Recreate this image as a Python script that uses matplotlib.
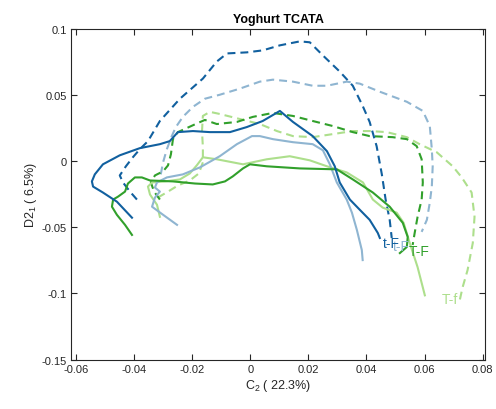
import matplotlib
matplotlib.use('Agg')
import matplotlib.pyplot as plt
import numpy as np

plt.rcParams['font.family'] = ['Liberation Sans', 'DejaVu Sans']
plt.rcParams['mathtext.fontset'] = 'custom'
plt.rcParams['mathtext.rm'] = 'Liberation Sans'
plt.rcParams['mathtext.default'] = 'regular'

# trajectories (C2, D2)
dkblue_solid_x = [-0.0407, -0.0459, -0.0507, -0.0541, -0.0545, -0.0535, -0.0507, -0.0449, -0.0380, -0.0311,
                  -0.0277, -0.0249, -0.0197, -0.0139, -0.0070, -0.0012, 0.0043, 0.0102, 0.0147, 0.0215,
                  0.0264, 0.0291, 0.0308, 0.0343, 0.0377, 0.0411, 0.0439, 0.0446]
dkblue_solid_y = [-0.0428, -0.0307, -0.0238, -0.0193, -0.0154, -0.0101, -0.0025, 0.0043, 0.0097, 0.0127,
                  0.0150, 0.0218, 0.0226, 0.0218, 0.0218, 0.0256, 0.0302, 0.0378, 0.0295, 0.0188,
                  0.0074, -0.0040, -0.0162, -0.0291, -0.0368, -0.0444, -0.0543, -0.0581]

dkblue_dash_x = [-0.0390, -0.0414, -0.0438, -0.0449, -0.0428, -0.0404, -0.0380, -0.0352, -0.0311, -0.0242,
                 -0.0163, -0.0115, -0.0080, -0.0012, 0.0043, 0.0102, 0.0171, 0.0205, 0.0250, 0.0308,
                 0.0353, 0.0387, 0.0411, 0.0435, 0.0453, 0.0466, 0.0480, 0.0487]
dkblue_dash_y = [-0.0291, -0.0231, -0.0162, -0.0109, -0.0040, 0.0028, 0.0089, 0.0150, 0.0302, 0.0470,
                 0.0622, 0.0751, 0.0812, 0.0820, 0.0835, 0.0873, 0.0903, 0.0896, 0.0797, 0.0675,
                 0.0568, 0.0416, 0.0295, 0.0112, -0.0101, -0.0291, -0.0444, -0.0581]

ltblue_solid_x = [-0.0252, -0.0300, -0.0338, -0.0328, -0.0311, -0.0328, -0.0321, -0.0287, -0.0232, -0.0173,
                  -0.0105, -0.0046, 0.0006, 0.0033, 0.0078, 0.0147, 0.0215, 0.0250, 0.0274, 0.0298,
                  0.0332, 0.0350, 0.0367, 0.0384, 0.0387]
ltblue_solid_y = [-0.0482, -0.0406, -0.0345, -0.0276, -0.0231, -0.0200, -0.0162, -0.0124, -0.0101, -0.0048,
                  0.0036, 0.0127, 0.0188, 0.0188, 0.0165, 0.0142, 0.0127, 0.0081, -0.0025, -0.0162,
                  -0.0291, -0.0390, -0.0520, -0.0672, -0.0748]

ltblue_dash_x = [-0.0308, -0.0300, -0.0287, -0.0270, -0.0256, -0.0232, -0.0197, -0.0156, -0.0105, -0.0036,
                 0.0033, 0.0078, 0.0147, 0.0215, 0.0264, 0.0332, 0.0377, 0.0446, 0.0539, 0.0594,
                 0.0618, 0.0625, 0.0628, 0.0625, 0.0618, 0.0608, 0.0590]
ltblue_dash_y = [-0.0101, -0.0010, 0.0089, 0.0188, 0.0256, 0.0333, 0.0409, 0.0470, 0.0500, 0.0546,
                 0.0599, 0.0614, 0.0599, 0.0568, 0.0568, 0.0599, 0.0584, 0.0523, 0.0447, 0.0378,
                 0.0264, 0.0089, -0.0040, -0.0193, -0.0314, -0.0444, -0.0535]

dkgreen_solid_x = [-0.0407, -0.0431, -0.0459, -0.0476, -0.0472, -0.0455, -0.0431, -0.0421, -0.0397, -0.0373,
                   -0.0345, -0.0266, -0.0190, -0.0129, -0.0087, -0.0060, -0.0025, -0.0001, 0.0057, 0.0171,
                   0.0298, 0.0353, 0.0422, 0.0480, 0.0525, 0.0542, 0.0539, 0.0515]
dkgreen_solid_y = [-0.0558, -0.0482, -0.0406, -0.0345, -0.0291, -0.0269, -0.0231, -0.0170, -0.0124, -0.0124,
                   -0.0147, -0.0154, -0.0170, -0.0177, -0.0154, -0.0116, -0.0056, -0.0025, -0.0040, -0.0056,
                   -0.0063, -0.0139, -0.0238, -0.0345, -0.0467, -0.0573, -0.0649, -0.0695]

dkgreen_dash_x = [-0.0311, -0.0331, -0.0342, -0.0328, -0.0300, -0.0283, -0.0273, -0.0266, -0.0249, -0.0218,
                  -0.0180, -0.0156, -0.0115, -0.0046, 0.0009, 0.0078, 0.0147, 0.0215, 0.0284, 0.0353,
                  0.0411, 0.0490, 0.0539, 0.0573, 0.0590, 0.0594, 0.0590, 0.0576, 0.0566, 0.0559]
dkgreen_dash_y = [-0.0291, -0.0231, -0.0162, -0.0109, -0.0078, -0.0033, 0.0051, 0.0165, 0.0218, 0.0249,
                  0.0287, 0.0310, 0.0279, 0.0295, 0.0333, 0.0363, 0.0340, 0.0302, 0.0264, 0.0218,
                  0.0188, 0.0180, 0.0165, 0.0112, 0.0013, -0.0162, -0.0291, -0.0421, -0.0543, -0.0634]

ltgreen_solid_x = [-0.0311, -0.0321, -0.0345, -0.0352, -0.0338, -0.0293, -0.0242, -0.0208, -0.0184, -0.0163,
                   -0.0115, -0.0025, 0.0057, 0.0136, 0.0205, 0.0264, 0.0332, 0.0388, 0.0422, 0.0456,
                   0.0504, 0.0528, 0.0549, 0.0576, 0.0601]
ltgreen_solid_y = [-0.0421, -0.0330, -0.0253, -0.0193, -0.0162, -0.0154, -0.0139, -0.0094, -0.0033, 0.0028,
                   0.0013, -0.0025, 0.0013, 0.0036, 0.0005, -0.0040, -0.0086, -0.0162, -0.0291, -0.0352,
                   -0.0390, -0.0467, -0.0619, -0.0801, -0.1014]

ltgreen_dash_x = [-0.0318, -0.0283, -0.0249, -0.0208, -0.0177, -0.0163, -0.0163, -0.0166, -0.0163, -0.0139,
                  -0.0105, -0.0036, 0.0033, 0.0092, 0.0147, 0.0215, 0.0284, 0.0353, 0.0411, 0.0470,
                  0.0539, 0.0583, 0.0642, 0.0697, 0.0728, 0.0762, 0.0772, 0.0766, 0.0748, 0.0731, 0.0721]
ltgreen_dash_y = [-0.0276, -0.0231, -0.0185, -0.0147, -0.0094, -0.0010, 0.0104, 0.0226, 0.0340, 0.0371,
                  0.0355, 0.0317, 0.0279, 0.0226, 0.0188, 0.0180, 0.0203, 0.0226, 0.0226, 0.0218,
                  0.0180, 0.0127, 0.0066, -0.0040, -0.0124, -0.0238, -0.0421, -0.0619, -0.0824, -0.0953, -0.1052]

# end labels: light blue t-F sits under the dark blue one in the original
labels = ['t-F', 't-F', 'T-F', 'T-f']
label_x = [0.0490, 0.0455, 0.0545, 0.0660]
label_y = [-0.0640, -0.0620, -0.0677, -0.1045]

xticks = [-0.06, -0.04, -0.02, 0, 0.02, 0.04, 0.06, 0.08]
xticklabels = ['-0.06', '-0.04', '-0.02', '0', '0.02', '0.04', '0.06', '0.08']
yticks = [-0.15, -0.1, -0.05, 0, 0.05, 0.1]
yticklabels = ['-0.15', '-0.1', '-0.05', '0', '0.05', '0.1']

dkblue = '#11609f'
ltblue = '#8fb5d1'
dkgreen = '#31a02b'
ltgreen = '#addf8c'

fig = plt.figure(figsize=(4.96, 4.10), dpi=100)
ax = fig.add_axes([0.1431, 0.1202, 0.8347, 0.8078])

lw = 1.5
dash = (3.8, 2.4)
ax.plot(ltgreen_dash_x, ltgreen_dash_y, color=ltgreen, lw=lw, dashes=dash)
ax.plot(ltblue_dash_x, ltblue_dash_y, color=ltblue, lw=lw, dashes=dash)
ax.plot(dkgreen_dash_x, dkgreen_dash_y, color=dkgreen, lw=lw, dashes=dash)
ax.plot(dkblue_dash_x, dkblue_dash_y, color=dkblue, lw=lw, dashes=dash)
ax.plot(ltgreen_solid_x, ltgreen_solid_y, color=ltgreen, lw=lw)
ax.plot(ltblue_solid_x, ltblue_solid_y, color=ltblue, lw=lw)
ax.plot(dkgreen_solid_x, dkgreen_solid_y, color=dkgreen, lw=lw)
ax.plot(dkblue_solid_x, dkblue_solid_y, color=dkblue, lw=lw)

label_colors = [ltblue, dkblue, dkgreen, ltgreen]
for t, x, y, c in zip(labels, label_x, label_y, label_colors):
    ax.text(x, y, t, color=c, fontsize=10, ha='left', va='center')

ax.set_xlim(-0.0617, 0.0808)
ax.set_ylim(-0.15, 0.1)
ax.set_xticks(xticks)
ax.set_xticklabels(xticklabels)
ax.set_yticks(yticks)
ax.set_yticklabels(yticklabels)
ax.tick_params(direction='in', length=4, width=0.8, top=True, right=True,
               labelsize=8, colors='#262626', pad=3)
for s in ax.spines.values():
    s.set_color('#262626')
    s.set_linewidth(0.8)

ax.set_xlabel('C$_2$ ( 22.3%)', fontsize=9, color='#262626', labelpad=2)
ax.set_ylabel('D2$_1$ ( 6.5%)', fontsize=9, color='#262626', labelpad=2)
ax.set_title('Yoghurt TCATA', fontsize=9, fontweight='bold', color='black', pad=5)

fig.savefig('out.png', dpi=100)
